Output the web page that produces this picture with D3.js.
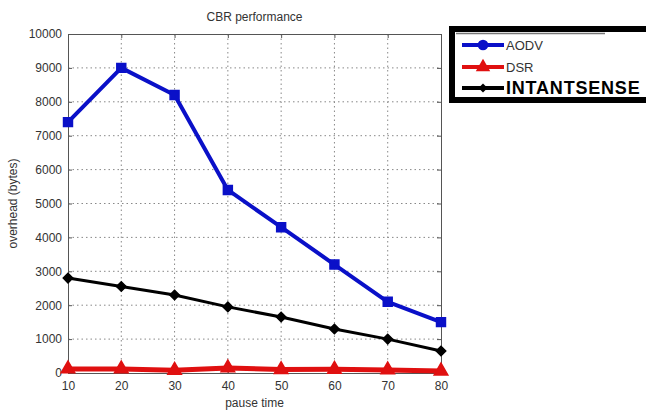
<!DOCTYPE html>
<html>
<head>
<meta charset="utf-8">
<script src="https://cdn.jsdelivr.net/npm/d3@7"></script>
<style>
  body { margin: 0; background: #fff; }
  svg { display: block; font-family: Arial, "Liberation Sans", sans-serif; }
  .grid line { stroke: #888; stroke-dasharray: 1.5,3; }
</style>
</head>
<body>
<div id="chart"></div>
<script>
// data
var pauseTime = [10, 20, 30, 40, 50, 60, 70, 80];
var aodv = [7400, 9000, 8200, 5400, 4300, 3200, 2100, 1500];
var dsr = [120, 120, 80, 150, 100, 110, 90, 60];
var intantsense = [2800, 2550, 2300, 1950, 1650, 1300, 1000, 650];
var yTicks = [0, 1000, 2000, 3000, 4000, 5000, 6000, 7000, 8000, 9000, 10000];

var series = [
  {name: "AODV", values: aodv, color: "#0a10c8", marker: "square", width: 4},
  {name: "DSR", values: dsr, color: "#e01010", marker: "triangle", width: 5},
  {name: "INTANTSENSE", values: intantsense, color: "#000", marker: "diamond", width: 3}
];

var W = 646, H = 412;
var m = {left: 68, right: 205, top: 34, bottom: 39};
var iw = W - m.left - m.right, ih = H - m.top - m.bottom;

var svg = d3.select("#chart").append("svg")
  .attr("width", W).attr("height", H);

var x = d3.scaleLinear().domain([10, 80]).range([0, iw]);
var y = d3.scaleLinear().domain([0, 10000]).range([ih, 0]);

var g = svg.append("g").attr("transform", "translate(" + m.left + "," + m.top + ")");

// grid
var grid = g.append("g").attr("class", "grid");
grid.selectAll(".gx").data(pauseTime.slice(1, -1)).enter().append("line")
  .attr("x1", function(d) { return x(d); }).attr("x2", function(d) { return x(d); })
  .attr("y1", 0).attr("y2", ih);
grid.selectAll(".gy").data(yTicks.slice(1, -1)).enter().append("line")
  .attr("y1", function(d) { return y(d); }).attr("y2", function(d) { return y(d); })
  .attr("x1", 0).attr("x2", iw);

// axes, MATLAB style ticks inside on all sides
var axStyle = function(sel) {
  sel.selectAll("path").attr("stroke", "#555");
  sel.selectAll("line").attr("stroke", "#555");
  sel.selectAll("text").attr("fill", "#333").attr("font-size", "12px");
};
g.append("g").attr("transform", "translate(0," + ih + ")")
  .call(d3.axisBottom(x).tickValues(pauseTime).tickSizeInner(-4).tickSizeOuter(0).tickPadding(8).tickFormat(d3.format("d")))
  .call(axStyle);
g.append("g")
  .call(d3.axisTop(x).tickValues(pauseTime).tickSizeInner(-4).tickSizeOuter(0).tickFormat(""))
  .call(axStyle);
g.append("g")
  .call(d3.axisLeft(y).tickValues(yTicks).tickSizeInner(-4).tickSizeOuter(0).tickPadding(6).tickFormat(d3.format("d")))
  .call(axStyle);
g.append("g").attr("transform", "translate(" + iw + ",0)")
  .call(d3.axisRight(y).tickValues(yTicks).tickSizeInner(-4).tickSizeOuter(0).tickFormat(""))
  .call(axStyle);

// lines
var line = d3.line()
  .x(function(d, i) { return x(pauseTime[i]); })
  .y(function(d) { return y(d); });

var symbolFor = function(name, size) {
  if (name === "square") return d3.symbol(d3.symbolSquare, size)();
  if (name === "triangle") return d3.symbol(d3.symbolTriangle, size)();
  return d3.symbol(d3.symbolSquare, size)();
};

series.forEach(function(s) {
  g.append("path").datum(s.values)
    .attr("fill", "none")
    .attr("stroke", s.color)
    .attr("stroke-width", s.width)
    .attr("stroke-linejoin", "round")
    .attr("d", line);
  g.selectAll(".m-" + s.marker).data(s.values).enter().append("path")
    .attr("transform", function(d, i) {
      return "translate(" + x(pauseTime[i]) + "," + y(d) + ")" + (s.marker === "diamond" ? " rotate(45)" : "");
    })
    .attr("d", symbolFor(s.marker, s.marker === "diamond" ? 45 : 80))
    .attr("fill", s.color)
    .attr("stroke", s.color)
    .attr("stroke-width", 1.5);
});

// titles
svg.append("text").attr("x", m.left + iw / 2).attr("y", 21)
  .attr("text-anchor", "middle").attr("font-size", "12px").attr("fill", "#333")
  .text("CBR performance");
svg.append("text").attr("x", m.left + iw / 2).attr("y", 407)
  .attr("text-anchor", "middle").attr("font-size", "12px").attr("fill", "#333")
  .text("pause time");
svg.append("text").attr("transform", "translate(17," + (m.top + ih / 2) + ") rotate(-90)")
  .attr("text-anchor", "middle").attr("font-size", "12px").attr("fill", "#333")
  .text("overhead (bytes)");

// legend
var lg = svg.append("g");
lg.append("rect").attr("x", 452).attr("y", 29).attr("width", 200).attr("height", 71)
  .attr("fill", "#fff").attr("stroke", "#000").attr("stroke-width", 6);
lg.append("line").attr("x1", 456).attr("x2", 605).attr("y1", 33.5).attr("y2", 33.5)
  .attr("stroke", "#777").attr("stroke-width", 1.5);
var ly = [45, 67, 88];
var legendMark = [d3.symbolCircle, d3.symbolTriangle, d3.symbolSquare];
series.forEach(function(s, i) {
  lg.append("line").attr("x1", 462).attr("x2", 504).attr("y1", ly[i]).attr("y2", ly[i])
    .attr("stroke", s.color).attr("stroke-width", 4);
  lg.append("path").attr("transform", "translate(483," + ly[i] + ")" + (i === 2 ? " rotate(45)" : ""))
    .attr("d", d3.symbol(legendMark[i], i === 2 ? 40 : 90)())
    .attr("fill", s.color);
  lg.append("text").attr("x", 506).attr("y", ly[i] + (i === 2 ? 6 : 5))
    .attr("font-size", i === 2 ? "18px" : "13px")
    .attr("font-weight", i === 2 ? "bold" : "normal")
    .attr("letter-spacing", i === 2 ? "0.8px" : "0")
    .attr("fill", i === 2 ? "#000" : "#333")
    .text(s.name);
});
</script>
</body>
</html>
